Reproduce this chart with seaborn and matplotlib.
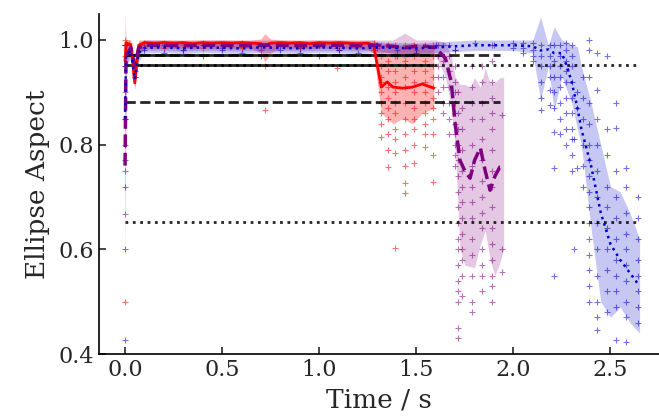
import matplotlib
matplotlib.use('Agg')
import matplotlib.pyplot as plt
import seaborn as sns

# ---- mean curves with their spread bands ----
red_t = [0.00, 0.005, 0.03, 0.05, 0.07, 0.10, 0.15, 0.20, 0.25, 0.30, 0.35, 0.40, 0.45, 0.50, 0.55,
         0.60, 0.65, 0.70, 0.72, 0.75, 0.80, 0.85, 0.90, 0.95, 1.00, 1.05, 1.10, 1.15, 1.20, 1.25,
         1.28, 1.32, 1.35, 1.38, 1.43, 1.48, 1.53, 1.59]
red_mean = [0.96, 0.995, 0.99, 0.918, 0.99, 0.995, 0.994, 0.995, 0.994, 0.995, 0.993, 0.995, 0.994,
            0.995, 0.994, 0.995, 0.994, 0.993, 0.99, 0.994, 0.995, 0.994, 0.995, 0.993, 0.995, 0.994,
            0.995, 0.994, 0.993, 0.994, 0.99, 0.91, 0.92, 0.91, 0.908, 0.91, 0.916, 0.908]
red_lo = [0.56, 0.98, 0.975, 0.905, 0.975, 0.985, 0.984, 0.985, 0.984, 0.985, 0.983, 0.985, 0.984,
          0.985, 0.984, 0.985, 0.984, 0.975, 0.958, 0.975, 0.985, 0.984, 0.985, 0.983, 0.985, 0.984,
          0.985, 0.984, 0.983, 0.982, 0.975, 0.86, 0.85, 0.84, 0.85, 0.84, 0.86, 0.87]
red_hi = [1.05, 1.0, 1.0, 0.93, 1.0, 1.0, 1.0, 1.0, 1.0, 1.0, 1.0, 1.0, 1.0, 1.0, 1.0, 1.0, 1.0,
          1.002, 1.012, 1.002, 1.0, 1.0, 1.0, 1.0, 1.0, 1.0, 1.0, 1.0, 1.0, 1.0, 1.0, 0.99, 0.995,
          0.99, 0.99, 0.995, 0.99, 0.985]

pur_t = [0.00, 0.005, 0.03, 0.05, 0.07, 0.10, 0.20, 0.30, 0.40, 0.50, 0.60, 0.70, 0.80, 0.90, 1.00,
         1.10, 1.20, 1.30, 1.38, 1.44, 1.50, 1.55, 1.60, 1.65, 1.68, 1.70, 1.725, 1.75, 1.777, 1.80,
         1.83, 1.855, 1.88, 1.905, 1.93, 1.95]
pur_mean = [0.76, 0.97, 0.985, 0.95, 0.985, 0.99, 0.99, 0.989, 0.99, 0.99, 0.989, 0.99, 0.99, 0.989,
            0.99, 0.99, 0.989, 0.99, 0.988, 0.985, 0.988, 0.988, 0.985, 0.965, 0.92, 0.84, 0.77, 0.75,
            0.736, 0.77, 0.794, 0.75, 0.713, 0.74, 0.757, 0.757]
pur_lo = [0.62, 0.95, 0.975, 0.93, 0.975, 0.98, 0.98, 0.979, 0.98, 0.98, 0.979, 0.98, 0.98, 0.979,
          0.98, 0.98, 0.979, 0.98, 0.975, 0.965, 0.975, 0.975, 0.97, 0.93, 0.87, 0.80, 0.60, 0.57,
          0.567, 0.565, 0.61, 0.635, 0.58, 0.55, 0.574, 0.60]
pur_hi = [1.0, 0.99, 0.995, 0.97, 0.995, 1.0, 1.0, 0.999, 1.0, 1.0, 0.999, 1.0, 1.0, 0.999, 1.0, 1.0,
          0.999, 1.0, 1.0, 1.013, 1.0, 1.0, 1.0, 0.995, 0.97, 0.93, 0.915, 0.915, 0.91, 0.928, 0.91,
          0.946, 0.918, 0.918, 0.928, 0.928]

blu_t = [0.00, 0.005, 0.03, 0.05, 0.07, 0.10, 0.20, 0.30, 0.40, 0.50, 0.60, 0.70, 0.80, 0.90, 1.00,
         1.10, 1.20, 1.30, 1.40, 1.50, 1.60, 1.70, 1.80, 1.90, 2.00, 2.10, 2.14, 2.18, 2.21, 2.25,
         2.28, 2.30, 2.33, 2.35, 2.40, 2.45, 2.50, 2.55, 2.60, 2.65]
blu_mean = [0.85, 0.97, 0.98, 0.925, 0.975, 0.985, 0.986, 0.984, 0.986, 0.985, 0.984, 0.986, 0.985,
            0.984, 0.986, 0.985, 0.984, 0.986, 0.985, 0.984, 0.986, 0.988, 0.99, 0.99, 0.99, 0.988,
            0.98, 0.982, 0.975, 0.975, 0.945, 0.92, 0.87, 0.83, 0.76, 0.67, 0.61, 0.58, 0.555, 0.53]
blu_lo = [0.70, 0.95, 0.965, 0.91, 0.96, 0.975, 0.976, 0.974, 0.976, 0.975, 0.974, 0.976, 0.975,
          0.974, 0.976, 0.975, 0.974, 0.976, 0.975, 0.974, 0.976, 0.978, 0.98, 0.98, 0.98, 0.975,
          0.885, 0.95, 0.866, 0.93, 0.90, 0.88, 0.83, 0.80, 0.64, 0.50, 0.47, 0.49, 0.46, 0.44]
blu_hi = [0.98, 0.99, 0.995, 0.94, 0.99, 0.995, 0.996, 0.994, 0.996, 0.995, 0.994, 0.996, 0.995,
          0.994, 0.996, 0.995, 0.994, 0.996, 0.995, 0.994, 0.996, 0.998, 1.0, 1.0, 1.0, 1.0, 1.044,
          0.99, 1.025, 1.0, 0.995, 0.99, 0.987, 0.95, 0.88, 0.80, 0.72, 0.71, 0.67, 0.62]

# ---- individual measurements, grouped in columns (time, values) ----
red_col_t = [0.0, 0.02, 0.05, 0.1, 0.2, 0.3, 0.4, 0.5, 0.6, 0.72, 0.8, 0.9, 1.0, 1.09, 1.2, 1.28,
             1.32, 1.355, 1.39, 1.44, 1.49, 1.545, 1.585]
red_col_v = [[1.0, 0.99, 0.97, 0.5], [0.995], [0.93, 0.96], [0.99, 0.995], [0.985, 0.995], [0.99],
             [0.985, 0.995], [0.99], [0.985, 0.995], [0.95, 0.866, 0.99], [0.99], [0.985], [0.99],
             [0.947, 0.985], [0.99], [0.995, 0.98],
             [0.99, 0.97, 0.95, 0.93, 0.92, 0.90, 0.88, 0.86, 0.84, 0.815],
             [0.99, 0.96, 0.94, 0.91, 0.89, 0.87, 0.85, 0.82, 0.79, 0.757],
             [0.99, 0.97, 0.94, 0.92, 0.90, 0.88, 0.86, 0.83, 0.81, 0.784, 0.603],
             [0.99, 0.96, 0.95, 0.93, 0.91, 0.88, 0.85, 0.82, 0.79, 0.76, 0.727, 0.707],
             [0.99, 0.97, 0.94, 0.92, 0.90, 0.87, 0.85, 0.83, 0.80, 0.765],
             [0.99, 0.96, 0.94, 0.92, 0.90, 0.88, 0.86, 0.84, 0.82, 0.796],
             [0.99, 0.97, 0.95, 0.93, 0.91, 0.89, 0.87, 0.85, 0.82, 0.78, 0.729]]

pur_col_t = [0.0, 0.05, 0.1, 0.3, 0.5, 0.7, 0.9, 1.1, 1.3, 1.5, 1.61, 1.64, 1.67, 1.70, 1.715, 1.735,
             1.785, 1.84, 1.89, 1.94]
pur_col_v = [[0.99, 0.95, 0.9, 0.85, 0.8, 0.75, 0.668], [0.94], [0.985], [0.98], [0.985], [0.98],
             [0.985], [0.98], [0.985], [0.98],
             [0.99, 0.97, 0.95, 0.93, 0.90],
             [0.99, 0.96, 0.93, 0.91, 0.88, 0.86],
             [0.99, 0.97, 0.94, 0.91, 0.88, 0.85, 0.82],
             [0.98, 0.95, 0.92, 0.90, 0.88, 0.86, 0.84, 0.82, 0.80, 0.78, 0.76],
             [0.90, 0.86, 0.83, 0.80, 0.77, 0.74, 0.71, 0.68, 0.65, 0.62, 0.60, 0.57, 0.54, 0.52,
              0.50, 0.45, 0.43],
             [0.87, 0.83, 0.79, 0.75, 0.72, 0.69, 0.66, 0.63, 0.60, 0.58, 0.55, 0.51],
             [0.95, 0.91, 0.88, 0.85, 0.80, 0.76, 0.72, 0.69, 0.66, 0.62, 0.59, 0.55, 0.50, 0.48],
             [0.95, 0.92, 0.88, 0.85, 0.81, 0.77, 0.73, 0.70, 0.67, 0.64, 0.60, 0.57, 0.55, 0.52],
             [0.99, 0.96, 0.92, 0.89, 0.86, 0.83, 0.79, 0.75, 0.72, 0.68, 0.64, 0.61, 0.58, 0.55,
              0.53, 0.50],
             [0.857, 0.60, 0.557]]

blu_col_t = [0.0, 0.05, 0.1, 0.2, 0.3, 0.4, 0.5, 0.6, 0.7, 0.8, 0.9, 1.0, 1.1, 1.2, 1.3, 1.4, 1.5,
             1.6, 1.7, 1.8, 1.9, 2.0, 2.05, 2.10, 2.14, 2.19, 2.21, 2.24, 2.27, 2.30, 2.31, 2.33,
             2.36, 2.39, 2.43, 2.48, 2.53, 2.58, 2.64]
blu_col_v = [[0.427, 0.6, 0.72, 0.77, 0.85, 0.95, 0.99], [0.93, 0.95], [0.98], [0.975, 0.99],
             [0.98], [0.99, 0.97], [0.98], [0.975], [0.99, 0.97], [0.98], [0.975], [0.99, 0.97],
             [0.98], [0.975], [0.99], [0.98, 0.97], [0.975], [0.99], [0.98], [0.995], [0.99],
             [0.995, 0.985], [0.995, 0.985, 0.975], [0.995, 0.98, 0.97, 0.96],
             [0.99, 0.97, 0.95, 0.92, 0.89, 0.866],
             [0.99, 0.97, 0.95, 0.93, 0.905, 0.876],
             [0.99, 0.96, 0.93, 0.90, 0.87, 0.824, 0.755, 0.55],
             [0.99, 0.97, 0.95, 0.93, 0.91, 0.88, 0.85, 0.82],
             [0.995, 0.98, 0.96, 0.94, 0.92, 0.89, 0.86, 0.83, 0.80],
             [0.99, 0.97, 0.95, 0.92, 0.89, 0.86, 0.83, 0.81, 0.78, 0.75],
             [0.81, 0.60], [0.755, 0.90, 0.87],
             [0.93, 0.89, 0.85, 0.80, 0.76, 0.72],
             [1.0, 0.98, 0.93, 0.88, 0.84, 0.80, 0.77, 0.74, 0.71, 0.68, 0.65, 0.62, 0.59, 0.56,
              0.53, 0.50],
             [0.975, 0.905, 0.85, 0.80, 0.75, 0.70, 0.65, 0.60, 0.55, 0.50, 0.47, 0.446],
             [0.97, 0.83, 0.78, 0.72, 0.68, 0.64, 0.60, 0.56, 0.52, 0.48],
             [0.88, 0.832, 0.75, 0.70, 0.66, 0.62, 0.58, 0.55, 0.52, 0.49, 0.427],
             [0.755, 0.72, 0.67, 0.63, 0.60, 0.57, 0.54, 0.50, 0.47, 0.423],
             [0.70, 0.66, 0.62, 0.58, 0.55, 0.52, 0.49, 0.46]]

# ---- threshold lines: (level, end time) per series ----
red_levels = [0.972, 0.952]
red_end = 1.59
pur_levels = [0.972, 0.881]
pur_end = 1.93
blu_levels = [0.952, 0.652]
blu_end = 2.64


def expand(col_t, col_v):
    xs, ys = [], []
    for t, vals in zip(col_t, col_v):
        xs += [t] * len(vals)
        ys += vals
    return xs, ys


sns.set_style('ticks')
plt.rcParams['font.family'] = ['DejaVu Serif']

fig = plt.figure(figsize=(6.59, 4.19), dpi=100)
ax = fig.add_axes([0.150, 0.155, 0.85, 0.812])

series = [
    (red_t, red_mean, red_lo, red_hi, red_col_t, red_col_v, 'red', '-', 2.0, 0.3),
    (pur_t, pur_mean, pur_lo, pur_hi, pur_col_t, pur_col_v, 'purple', '--', 2.5, 0.22),
    (blu_t, blu_mean, blu_lo, blu_hi, blu_col_t, blu_col_v, 'mediumblue', ':', 1.8, 0.22),
]

# bands
for t, m, lo, hi, ct, cv, c, ls, lw, a in series:
    ax.fill_between(t, lo, hi, color=c, alpha=a, lw=0)

# raw points
for t, m, lo, hi, ct, cv, c, ls, lw, a in series:
    xs, ys = expand(ct, cv)
    sns.scatterplot(x=xs, y=ys, marker='+', color=c, s=14, linewidth=0.8, alpha=0.55, ax=ax)

# thresholds
for levels, end, ls, lw in [(red_levels, red_end, '-', 2.0),
                            (pur_levels, pur_end, '--', 2.0),
                            (blu_levels, blu_end, ':', 2.0)]:
    for lev in levels:
        ax.hlines(lev, 0, end, colors='black', linestyles=ls, lw=lw, alpha=0.85)

# means
for t, m, lo, hi, ct, cv, c, ls, lw, a in series:
    sns.lineplot(x=t, y=m, color=c, linestyle=ls, lw=lw, ax=ax)

ax.set_xlim(-0.135, 2.75)
ax.set_ylim(0.4, 1.05)
ax.set_xticks([0.0, 0.5, 1.0, 1.5, 2.0, 2.5])
ax.set_yticks([0.4, 0.6, 0.8, 1.0])
ax.set_xlabel('Time / s', fontsize=19, labelpad=5)
ax.set_ylabel('Ellipse Aspect', fontsize=19, labelpad=6)
ax.tick_params(direction='in', length=5, width=1.2, labelsize=16)
for s in ['left', 'bottom']:
    ax.spines[s].set_linewidth(1.2)
    ax.spines[s].set_color('black')
sns.despine(ax=ax)

fig.savefig('out.png', dpi=100)
